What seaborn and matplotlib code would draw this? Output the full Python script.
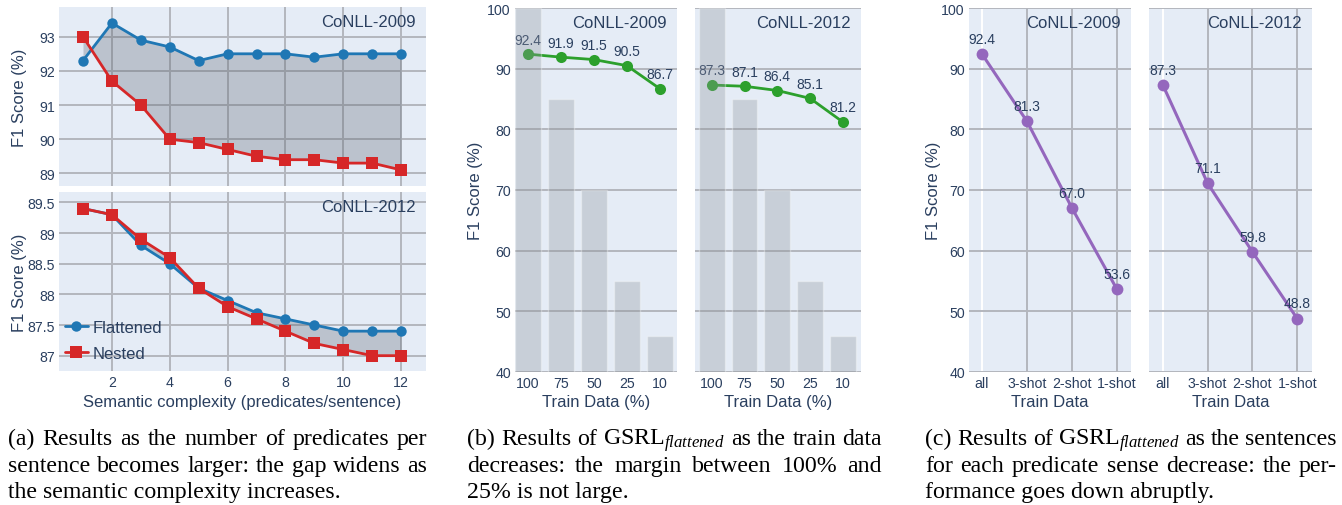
import numpy as np
import pandas as pd
import matplotlib
matplotlib.use("Agg")
import matplotlib.pyplot as plt
import seaborn as sns
from matplotlib.ticker import FuncFormatter

# ---- data ----
complexity = list(range(1, 13))
f1_09_flat = [92.3, 93.4, 92.9, 92.7, 92.3, 92.5, 92.5, 92.5, 92.4, 92.5, 92.5, 92.5]
f1_09_nested = [93.0, 91.7, 91.0, 90.0, 89.9, 89.7, 89.5, 89.4, 89.4, 89.3, 89.3, 89.1]
f1_12_flat = [89.4, 89.3, 88.8, 88.5, 88.1, 87.9, 87.7, 87.6, 87.5, 87.4, 87.4, 87.4]
f1_12_nested = [89.4, 89.3, 88.9, 88.6, 88.1, 87.8, 87.6, 87.4, 87.2, 87.1, 87.0, 87.0]

train_pct = ["100", "75", "50", "25", "10"]
train_bar = [100, 85, 70, 55, 46]
f1_train_09 = [92.4, 91.9, 91.5, 90.5, 86.7]
f1_train_12 = [87.3, 87.1, 86.4, 85.1, 81.2]

shots = ["all", "3-shot", "2-shot", "1-shot"]
f1_shot_09 = [92.4, 81.3, 67.0, 53.6]
f1_shot_12 = [87.3, 71.1, 59.8, 48.8]

# ---- style ----
TEXT = "#2a3f5f"
BG = "#E5ECF6"
GRID = "#b3b6bd"
BLUE, RED, GREEN, PURPLE = "#1f77b4", "#d62728", "#2ca02c", "#9467bd"

sns.set_theme(style="darkgrid", rc={
    "axes.facecolor": BG,
    "grid.color": GRID,
    "grid.linewidth": 1.4,
    "xtick.color": TEXT,
    "ytick.color": TEXT,
    "axes.labelcolor": TEXT,
})
plt.rcParams["font.family"] = ["Liberation Sans", "DejaVu Sans"]
plt.rcParams["mathtext.fontset"] = "custom"
plt.rcParams["mathtext.rm"] = "Liberation Serif"
plt.rcParams["mathtext.it"] = "Liberation Serif:italic"

W, H = 1342, 506
fig = plt.figure(figsize=(W / 100, H / 100), dpi=100)

TICK_FS, LABEL_FS, TITLE_FS, VAL_FS = 10.2, 12, 12, 10


def add_ax(x0, y0, x1, y1):
    # pixel box -> figure fraction
    return fig.add_axes([x0 / W, 1 - y1 / H, (x1 - x0) / W, (y1 - y0) / H])


def tidy(ax):
    for s in ax.spines.values():
        s.set_visible(False)
    ax.tick_params(length=0, labelsize=TICK_FS, pad=3, colors=TEXT)


def corner_title(ax, text, px_h, px_w):
    ax.text(1 - 10 / px_w, 1 - 15 / px_h, text, transform=ax.transAxes,
            ha="right", va="center", fontsize=TITLE_FS, color=TEXT)


# ---- (a) semantic complexity ----
ax_a1 = add_ax(59, 8, 426, 187)
ax_a2 = add_ax(59, 193, 426, 372)
for ax, flat, nested, name, ylim, yt in [
    (ax_a1, f1_09_flat, f1_09_nested, "CoNLL-2009", (88.63, 93.87), np.arange(89, 93.5, 1)),
    (ax_a2, f1_12_flat, f1_12_nested, "CoNLL-2012", (86.75, 89.67), np.arange(87, 89.6, 0.5)),
]:
    df = pd.DataFrame({"complexity": complexity, "Flattened": flat, "Nested": nested})
    ax.fill_between(df["complexity"], df["Flattened"], df["Nested"],
                    color="#5a6470", alpha=0.3, lw=0)
    sns.lineplot(data=df, x="complexity", y="Flattened", ax=ax, color=BLUE,
                 marker="o", markersize=7.5, markeredgewidth=0, lw=2, label="Flattened")
    sns.lineplot(data=df, x="complexity", y="Nested", ax=ax, color=RED,
                 marker="s", markersize=8.5, markeredgewidth=0, lw=2, label="Nested")
    ax.set_xlim(0.17, 12.86)
    ax.set_xticks(range(2, 13, 2))
    ax.set_ylim(*ylim)
    ax.set_yticks(yt)
    ax.yaxis.set_major_formatter(FuncFormatter(lambda v, p: f"{v:g}"))
    ax.set_ylabel("F1 Score (%)", fontsize=LABEL_FS)
    ax.yaxis.set_label_coords(-32 / 367, 0.5)
    tidy(ax)
    corner_title(ax, name, 179, 367)

ax_a1.get_legend().remove()
ax_a1.set_xlabel("")
ax_a1.tick_params(labelbottom=False)
ax_a2.set_xlabel("Semantic complexity (predicates/sentence)", fontsize=LABEL_FS)
ax_a2.xaxis.set_label_coords(0.5, -23 / 179)
ax_a2.legend(loc="lower left", bbox_to_anchor=(0.015, 0.055), frameon=False,
             fontsize=12, handlelength=1.4, handletextpad=0.3, labelspacing=0.68,
             borderaxespad=0, borderpad=0, labelcolor=TEXT)

# ---- (b) train data size ----
ax_b1 = add_ax(515, 9, 677, 373)
ax_b2 = add_ax(695, 9, 861, 373)
for ax, f1, name, xlim, pw in [
    (ax_b1, f1_train_09, "CoNLL-2009", (-0.39, 4.52), 162),
    (ax_b2, f1_train_12, "CoNLL-2012", (-0.51, 4.55), 166),
]:
    sns.lineplot(x=train_pct, y=f1, ax=ax, sort=False, color=GREEN, lw=2,
                 marker="o", markersize=8, markeredgewidth=0, zorder=2)
    for i, v in enumerate(f1):
        ax.annotate(f"{v:.1f}", (i, v), xytext=(0, 10.5), textcoords="offset points",
                    ha="center", va="center", fontsize=VAL_FS, color=TEXT, zorder=2.5)
    sns.barplot(x=train_pct, y=train_bar, order=train_pct, ax=ax, color="#8f949c",
                alpha=0.33, width=0.79, saturation=1, zorder=3)
    ax.set_xlim(*xlim)
    ax.set_ylim(40, 100)
    ax.set_yticks(range(40, 101, 10))
    ax.grid(axis="x", visible=False)
    ax.grid(axis="y", visible=True)
    ax.set_axisbelow(True)
    ax.set_xlabel("Train Data (%)", fontsize=LABEL_FS)
    ax.xaxis.set_label_coords(0.5, -22 / 364)
    tidy(ax)
    corner_title(ax, name, 364, pw)

ax_b1.set_ylabel("F1 Score (%)", fontsize=LABEL_FS)
ax_b1.yaxis.set_label_coords(-32 / 162, 0.5)
ax_b2.set_ylabel("")
ax_b2.tick_params(labelleft=False)

# ---- (c) few-shot predicate senses ----
ax_c1 = add_ax(969, 9, 1131, 373)
ax_c2 = add_ax(1149, 9, 1312, 373)
for ax, f1, name, xlim, pw in [
    (ax_c1, f1_shot_09, "CoNLL-2009", (-0.29, 3.31), 162),
    (ax_c2, f1_shot_12, "CoNLL-2012", (-0.31, 3.33), 163),
]:
    sns.lineplot(x=shots, y=f1, ax=ax, sort=False, color=PURPLE, lw=2.2,
                 marker="o", markersize=8.5, markeredgewidth=0)
    for i, v in enumerate(f1):
        ax.annotate(f"{v:.1f}", (i, v), xytext=(0, 11), textcoords="offset points",
                    ha="center", va="center", fontsize=VAL_FS, color=TEXT)
    ax.set_xlim(*xlim)
    ax.set_ylim(40, 100)
    ax.set_yticks(range(40, 101, 10))
    ax.set_xlabel("Train Data", fontsize=LABEL_FS)
    ax.xaxis.set_label_coords(0.5, -22 / 364)
    tidy(ax)
    ax.get_xgridlines()[0].set_color("white")
    corner_title(ax, name, 364, pw)

ax_c1.set_ylabel("F1 Score (%)", fontsize=LABEL_FS)
ax_c1.yaxis.set_label_coords(-28 / 162, 0.5)
ax_c2.set_ylabel("")
ax_c2.tick_params(labelleft=False)

# ---- captions (justified like the paper) ----
cap_font = dict(family="Liberation Serif", fontsize=17.2, color="black", va="baseline")
baselines = [445, 472, 498]
renderer = fig.canvas.get_renderer()


def caption(x0, width, lines):
    for k, line in enumerate(lines):
        y = 1 - baselines[k] / H
        words = line.split()
        if k == len(lines) - 1:
            fig.text(x0 / W, y, line, **cap_font)
            continue
        texts = [fig.text(0, y, w, **cap_font) for w in words]
        widths = [t.get_window_extent(renderer).width for t in texts]
        gap = (width - sum(widths)) / (len(words) - 1)
        x = x0
        for t, w in zip(texts, widths):
            t.set_x(x / W)
            x += w + gap


caption(8, 419, ["(a) Results as the number of predicates per",
                 "sentence becomes larger: the gap widens as",
                 "the semantic complexity increases."])
caption(467, 415, [r"(b) Results of GSRL$_{\mathit{flattened}}$ as the train data",
                   "decreases:  the margin between 100% and",
                   "25% is not large."])
caption(925, 412, [r"(c) Results of GSRL$_{\mathit{flattened}}$ as the sentences",
                   "for each predicate sense decrease: the per-",
                   "formance goes down abruptly."])

fig.savefig("out.png", dpi=100)
